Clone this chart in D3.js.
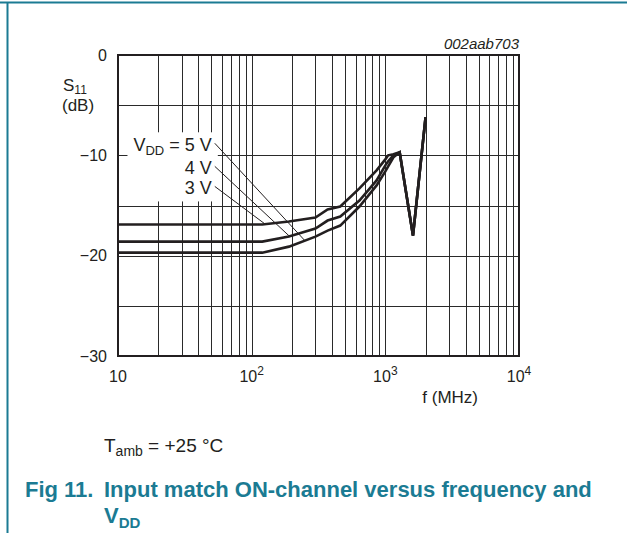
<!DOCTYPE html>
<html>
<head>
<meta charset="utf-8">
<script src="https://cdn.jsdelivr.net/npm/d3@7"></script>
<style>
    html, body { margin: 0; padding: 0; background: #fff; }
    svg { display: block; font-family: "Liberation Sans", Arial, sans-serif; }
</style>
</head>
<body>
<svg id="chart" width="627" height="533"></svg>
<script>
/*global d3 */
// S11 input match versus frequency, one trace per supply voltage
var freqs = [10, 120, 190, 300, 370, 460, 640, 860, 1000, 1050, 1150, 1280, 1610, 2000];
var s11_3V = [-16.9, -16.9, -16.6, -16.2, -15.4, -15.1, -13.3, -11.5, -10.4, -10.0, -9.9, -9.7, -18.0, -6.2];
var s11_4V = [-18.6, -18.6, -18.1, -17.3, -16.5, -16.1, -14.5, -12.5, -11.0, -10.6, -10.0, -9.7, -18.0, -6.2];
var s11_5V = [-19.7, -19.7, -19.1, -18.1, -17.5, -17.0, -15.1, -13.0, -11.6, -11.1, -10.2, -9.7, -18.0, -6.2];

var decades = [10, 100, 1000, 10000];
var dbTicks = [0, -10, -20, -30];
var dbGrid = [-5, -10, -15, -20, -25];

// label text, label anchor (f, dB) and the point on the trace it points to
var vddLabels = ["5 V", "4 V", "3 V"];
var leaderFrom = [[53, -8.8], [53, -11.1], [53, -13.1]];
var leaderTo = [[250, -18.5], [193, -18.1], [126, -16.85]];

var teal = "#1b7b93";
var ink = "#231f20";

var svg = d3.select("#chart");
var margin = {top: 55, right: 108, bottom: 177, left: 118};
var width = 627 - margin.left - margin.right,
    height = 533 - margin.top - margin.bottom;

// page frame rules
svg.append("line").attr("x1", 0).attr("x2", 627).attr("y1", 2.5).attr("y2", 2.5)
    .attr("stroke", teal).attr("stroke-width", 2);
svg.append("line").attr("x1", 7.5).attr("x2", 7.5).attr("y1", 2).attr("y2", 533)
    .attr("stroke", teal).attr("stroke-width", 2);

var g = svg.append("g").attr("transform", "translate(" + margin.left + "," + margin.top + ")");

var x = d3.scaleLog().domain([10, 1e4]).range([0, width]);
var y = d3.scaleLinear().domain([-30, 0]).range([height, 0]);

// log grid: 1..9 in every decade
var gridFreqs = [];
[10, 100, 1000].forEach(function (d) {
    for (var k = 2; k <= 9; k++) { gridFreqs.push(d * k); }
});
gridFreqs = gridFreqs.concat([100, 1000]);

g.append("g")
    .attr("class", "grid")
    .call(d3.axisBottom(x).tickValues(gridFreqs).tickSize(height).tickFormat(""))
    .call(function (s) { s.select(".domain").remove(); });

g.append("g")
    .attr("class", "grid")
    .call(d3.axisRight(y).tickValues(dbGrid).tickSize(width).tickFormat(""))
    .call(function (s) { s.select(".domain").remove(); });

g.selectAll(".grid line")
    .attr("stroke", "#2a2a2a")
    .attr("stroke-width", 1)
    .attr("shape-rendering", "crispEdges");

// white panel behind the VDD labels, sized from the text afterwards
var labelBg = g.append("rect").attr("fill", "#fff");

var labels = g.append("g").attr("font-size", 18).attr("fill", ink).attr("text-anchor", "end");
labels.selectAll("text")
    .data(vddLabels)
    .enter().append("text")
    .attr("x", function (d, i) { return x(leaderFrom[i][0]) - 3; })
    .attr("y", function (d, i) { return y(leaderFrom[i][1]) + 8; })
    .each(function (d, i) {
        var t = d3.select(this);
        if (i === 0) {
            t.append("tspan").text("V");
            t.append("tspan").attr("font-size", 13).attr("dy", 4).text("DD");
            t.append("tspan").attr("dy", -4).text(" = " + d);
        } else {
            t.text(d);
        }
    });

var bb = labels.node().getBBox();
labelBg.attr("x", bb.x - 6).attr("y", bb.y - 3)
    .attr("width", bb.width + 12).attr("height", bb.height + 6);

// leader lines
g.selectAll(".leader")
    .data(leaderFrom)
    .enter().append("line")
    .attr("class", "leader")
    .attr("x1", function (d) { return x(d[0]); })
    .attr("y1", function (d) { return y(d[1]); })
    .attr("x2", function (d, i) { return x(leaderTo[i][0]); })
    .attr("y2", function (d, i) { return y(leaderTo[i][1]); })
    .attr("stroke", ink)
    .attr("stroke-width", 1);

// plot frame
g.append("rect")
    .attr("width", width).attr("height", height)
    .attr("fill", "none").attr("stroke", ink).attr("stroke-width", 1.2)
    .attr("shape-rendering", "crispEdges");

// traces
var line = d3.line()
    .x(function (d, i) { return x(freqs[i]); })
    .y(function (d) { return y(d); });

g.selectAll(".trace")
    .data([s11_3V, s11_4V, s11_5V])
    .enter().append("path")
    .attr("class", "trace")
    .attr("d", line)
    .attr("fill", "none")
    .attr("stroke", ink)
    .attr("stroke-width", 2.6)
    .attr("stroke-linejoin", "miter");

// y tick labels
g.append("g")
    .call(d3.axisLeft(y).tickValues(dbTicks).tickSize(0).tickPadding(11))
    .call(function (s) {
        s.select(".domain").remove();
        s.selectAll("text").attr("font-size", 16).attr("fill", ink)
            .attr("font-family", "Liberation Sans, Arial, sans-serif");
    });

// x tick labels with superscript exponents
var xl = g.append("g").attr("font-size", 16).attr("fill", ink).attr("text-anchor", "middle");
xl.selectAll("text")
    .data(decades)
    .enter().append("text")
    .attr("x", function (d) { return x(d); })
    .attr("y", height + 26)
    .each(function (d) {
        var t = d3.select(this);
        var e = Math.round(Math.log10(d));
        t.append("tspan").text("10");
        if (e > 1) {
            t.append("tspan").attr("font-size", 12).attr("dy", -7).text(e);
        }
    });

g.append("text")
    .attr("x", x(1000) + 37).attr("y", height + 47)
    .attr("font-size", 17).attr("fill", ink)
    .text("f (MHz)");

// y axis title
var yt = g.append("text").attr("x", -55).attr("y", 36).attr("font-size", 17).attr("fill", ink);
yt.append("tspan").text("S");
yt.append("tspan").attr("font-size", 12).attr("dy", 3).text("11");
g.append("text").attr("x", -56).attr("y", 56).attr("font-size", 17).attr("fill", ink).text("(dB)");

// figure code
g.append("text")
    .attr("x", width).attr("y", -6)
    .attr("text-anchor", "end").attr("font-size", 15).attr("font-style", "italic").attr("fill", ink)
    .text("002aab703");

// conditions
var cond = svg.append("text").attr("x", 104).attr("y", 452).attr("font-size", 19).attr("fill", ink);
cond.append("tspan").text("T");
cond.append("tspan").attr("font-size", 14).attr("dy", 4).text("amb");
cond.append("tspan").attr("dy", -4).text(" = +25 \u00B0C");

// caption, hanging indent after the figure number
var cap = svg.append("g").attr("font-size", 22).attr("font-weight", "bold").attr("fill", teal);
cap.append("text").attr("x", 25).attr("y", 497).text("Fig 11.");
cap.append("text").attr("x", 104).attr("y", 497).text("Input match ON-channel versus frequency and");
var cap2 = cap.append("text").attr("x", 104).attr("y", 523);
cap2.append("tspan").text("V");
cap2.append("tspan").attr("font-size", 15).attr("dy", 5).text("DD");
</script>
</body>
</html>
